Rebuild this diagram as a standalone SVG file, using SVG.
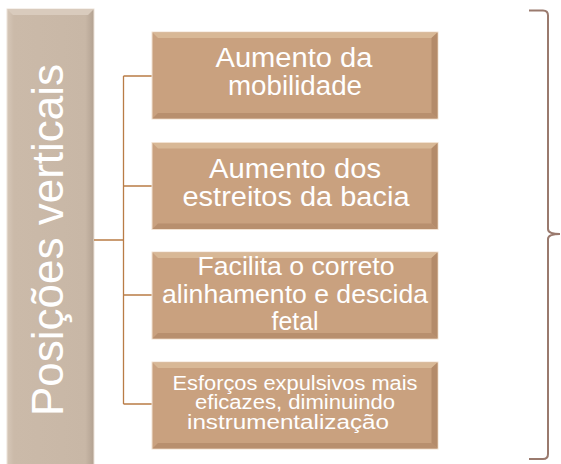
<svg xmlns="http://www.w3.org/2000/svg" width="561" height="464" viewBox="0 0 561 464">
<style>
.box{fill:#c9a17f;stroke:#f2e2d2;stroke-width:1}
.hl{fill:#d8b896}
.sh{fill:#b48b6a}
.t{font-family:"Liberation Sans",Arial,sans-serif;fill:#ffffff;text-anchor:middle}
.conn{stroke:#b97c46;stroke-width:1.3;fill:none}
</style>
<defs>
<linearGradient id="barg" x1="0" x2="1" y1="0" y2="0">
<stop offset="0" stop-color="#d6c7b8"/>
<stop offset="0.08" stop-color="#cbbaa9"/>
<stop offset="0.9" stop-color="#c8b7a6"/>
<stop offset="1" stop-color="#b2a191"/>
</linearGradient>
</defs>
<rect width="561" height="464" fill="#ffffff"/>
<g id="left-bar">
<rect x="7" y="9" width="87" height="460" fill="url(#barg)" stroke="#ece2d8" stroke-width="1"/>
<polygon points="7,9 94,9 88,15 13,15" fill="#d9cbbd"/>
<text class="t" font-size="44" transform="translate(63,240) rotate(-90)">Posições verticais</text>
</g>
<g id="connectors">
<path class="conn" d="M94,240 H123.5 M123.5,76 V404 M123.5,76 H152 M123.5,186 H152 M123.5,295 H152 M123.5,404 H152"/>
</g>
<g id="node1">
<rect class="box" x="152" y="32" width="286" height="87"/>
<polygon class="hl" points="152.5,32.5 437.5,32.5 431.5,38 158,38"/>
<polygon class="sh" points="437.5,32.5 437.5,118.5 431.5,113 431.5,38"/>
<polygon class="sh" points="152.5,118.5 437.5,118.5 431.5,113 158,113" opacity="0.8"/>
<text class="t" font-size="27" x="294" y="67" textLength="157" lengthAdjust="spacingAndGlyphs">Aumento da</text>
<text class="t" font-size="27" x="295" y="95" textLength="134" lengthAdjust="spacingAndGlyphs">mobilidade</text>
</g>
<g id="node2">
<rect class="box" x="152" y="142.5" width="286" height="87"/>
<polygon class="hl" points="152.5,143 437.5,143 431.5,148.5 158,148.5"/>
<polygon class="sh" points="437.5,143 437.5,229 431.5,223.5 431.5,148.5"/>
<polygon class="sh" points="152.5,229 437.5,229 431.5,223.5 158,223.5" opacity="0.8"/>
<text class="t" font-size="27" x="295" y="178" textLength="172" lengthAdjust="spacingAndGlyphs">Aumento dos</text>
<text class="t" font-size="27" x="296" y="205.5" textLength="227" lengthAdjust="spacingAndGlyphs">estreitos da bacia</text>
</g>
<g id="node3">
<rect class="box" x="152" y="252" width="286" height="87"/>
<polygon class="hl" points="152.5,252.5 437.5,252.5 431.5,258 158,258"/>
<polygon class="sh" points="437.5,252.5 437.5,338.5 431.5,333 431.5,258"/>
<polygon class="sh" points="152.5,338.5 437.5,338.5 431.5,333 158,333" opacity="0.8"/>
<text class="t" font-size="26" x="296" y="275" textLength="197" lengthAdjust="spacingAndGlyphs">Facilita o correto</text>
<text class="t" font-size="26" x="295" y="302.5" textLength="266" lengthAdjust="spacingAndGlyphs">alinhamento e descida</text>
<text class="t" font-size="26" x="295" y="330" textLength="47" lengthAdjust="spacingAndGlyphs">fetal</text>
</g>
<g id="node4">
<rect class="box" x="152" y="362" width="286" height="87"/>
<polygon class="hl" points="152.5,362.5 437.5,362.5 431.5,368 158,368"/>
<polygon class="sh" points="437.5,362.5 437.5,448.5 431.5,443 431.5,368"/>
<polygon class="sh" points="152.5,448.5 437.5,448.5 431.5,443 158,443" opacity="0.8"/>
<text class="t" font-size="19.5" x="295" y="389.5" textLength="245" lengthAdjust="spacingAndGlyphs">Esforços expulsivos mais</text>
<text class="t" font-size="19.5" x="295" y="409" textLength="200" lengthAdjust="spacingAndGlyphs">eficazes, diminuindo</text>
<text class="t" font-size="19.5" x="288" y="428.5" textLength="202" lengthAdjust="spacingAndGlyphs">instrumentalização</text>
</g>
<g id="brace">
<path d="M529,10.5 H543 Q548,10.5 548,15.5 V229 Q548,234 560,234 Q548,234 548,239 V454 Q548,459 543,459 H529" fill="none" stroke="#9a7a6e" stroke-width="2"/>
</g>
</svg>
